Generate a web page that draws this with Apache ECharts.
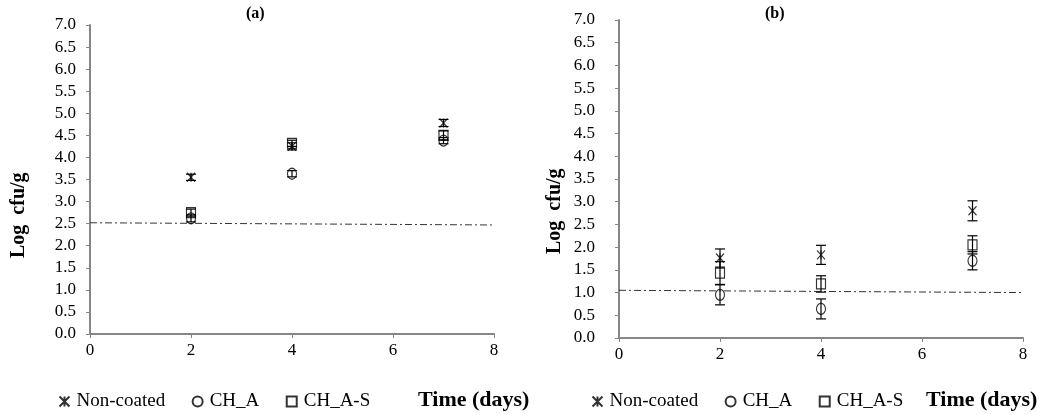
<!DOCTYPE html>
<html>
<head>
<meta charset="utf-8">
<script src="https://cdn.jsdelivr.net/npm/echarts@6/dist/echarts.min.js"></script>
<style>
  html, body { margin: 0; padding: 0; background: #fff; }
  #main { width: 1053px; height: 415px; }
</style>
</head>
<body>
<div id="main"></div>
<script>
// 数据
var days = [2, 4, 7];
var yTicks = ['0.0','0.5','1.0','1.5','2.0','2.5','3.0','3.5','4.0','4.5','5.0','5.5','6.0','6.5','7.0'];

// (a)
var aNonCoated = [3.55, 4.25, 4.78];
var aNonCoatedErr = [0.07, 0.08, 0.08];
var aChA = [2.62, 3.63, 4.38];
var aChAErr = [0.08, 0.07, 0.07];
var aChAS = [2.75, 4.32, 4.50];
var aChASErr = [0.08, 0.07, 0.10];
var aLimitX = [0, 8];
var aLimitY = [2.52, 2.47];

// (b)
var bNonCoated = [1.76, 1.83, 2.80];
var bNonCoatedErr = [0.20, 0.21, 0.22];
var bChA = [0.95, 0.64, 1.70];
var bChAErr = [0.22, 0.22, 0.20];
var bChAS = [1.43, 1.19, 2.05];
var bChASErr = [0.25, 0.18, 0.20];
var bLimitX = [0, 8];
var bLimitY = [1.05, 1.00];

var names = ['Non-coated', 'CH_A', 'CH_A-S'];
var starPath = 'path://M0,0L10,10M10,0L0,10M5,0L5,10';
var serif = 'Liberation Serif';

function pairs(xs, ys, es) {
	var out = [];
	for (var i = 0; i < xs.length; i++) {
		out.push(es ? [xs[i], ys[i], es[i]] : [xs[i], ys[i]]);
	}
	return out;
}

// 误差线
function errRender(params, api) {
	var x = api.value(0), y = api.value(1), e = api.value(2);
	var top = api.coord([x, y + e]);
	var bot = api.coord([x, y - e]);
	var w = 5;
	var st = { stroke: '#000', lineWidth: 1.2 };
	return {
		type: 'group',
		children: [
			{ type: 'line', shape: { x1: top[0], y1: top[1], x2: bot[0], y2: bot[1] }, style: st },
			{ type: 'line', shape: { x1: top[0] - w, y1: top[1], x2: top[0] + w, y2: top[1] }, style: st },
			{ type: 'line', shape: { x1: bot[0] - w, y1: bot[1], x2: bot[0] + w, y2: bot[1] }, style: st }
		]
	};
}

function panelSeries(idx, nc, ncE, ca, caE, cs, csE, lx, ly) {
	var mk = { color: 'none', borderColor: '#000', borderWidth: 1.2 };
	return [
		{ name: names[0], type: 'scatter', xAxisIndex: idx, yAxisIndex: idx, symbol: starPath, symbolSize: [8, 9], itemStyle: mk, data: pairs(days, nc), z: 3 },
		{ name: names[1], type: 'scatter', xAxisIndex: idx, yAxisIndex: idx, symbol: 'circle', symbolSize: [9, 11], itemStyle: mk, data: pairs(days, ca), z: 3 },
		{ name: names[2], type: 'scatter', xAxisIndex: idx, yAxisIndex: idx, symbol: 'rect', symbolSize: [9, 10], itemStyle: mk, data: pairs(days, cs), z: 3 },
		{ name: names[0], type: 'custom', xAxisIndex: idx, yAxisIndex: idx, renderItem: errRender, encode: { x: 0, y: 1 }, data: pairs(days, nc, ncE), z: 2 },
		{ name: names[1], type: 'custom', xAxisIndex: idx, yAxisIndex: idx, renderItem: errRender, encode: { x: 0, y: 1 }, data: pairs(days, ca, caE), z: 2 },
		{ name: names[2], type: 'custom', xAxisIndex: idx, yAxisIndex: idx, renderItem: errRender, encode: { x: 0, y: 1 }, data: pairs(days, cs, csE), z: 2 },
		{ name: 'limit', type: 'line', xAxisIndex: idx, yAxisIndex: idx, symbol: 'none', silent: true,
			lineStyle: { color: '#333', width: 1, type: [7, 3, 2, 3] }, data: pairs(lx, ly), z: 1 }
	];
}

function xAxisCfg(idx) {
	return {
		type: 'value', gridIndex: idx, min: 0, max: 8, interval: 2,
		axisLine: { lineStyle: { color: '#868686', width: 2 } },
		axisTick: { length: 4, lineStyle: { color: '#868686' } },
		axisLabel: { color: '#000', fontFamily: serif, fontSize: 17, margin: 8 },
		splitLine: { show: false }
	};
}

function yAxisCfg(idx, margin) {
	return {
		type: 'value', gridIndex: idx, min: 0, max: 7, interval: 0.5,
		axisLine: { show: true, lineStyle: { color: '#868686', width: 2 } },
		axisTick: { show: true, length: 4, lineStyle: { color: '#868686' } },
		axisLabel: {
			color: '#000', fontFamily: serif, fontSize: 17, margin: margin,
			formatter: function (v) { return yTicks[Math.round(v * 2)]; }
		},
		splitLine: { show: false }
	};
}

function legendCfg(left) {
	return {
		left: left, top: 387, itemWidth: 10, itemHeight: 10, itemGap: 25,
		data: names,
		textStyle: { fontFamily: serif, fontSize: 19, color: '#000', padding: [0, 0, 0, 2] }
	};
}

var myChart = echarts.init(document.getElementById('main'));
var option = {
	animation: false,
	title: [
		{ text: '(a)', left: 241, top: 1, textStyle: { fontFamily: serif, fontSize: 16, fontWeight: 'bold', color: '#000' } },
		{ text: '(b)', left: 760, top: 1, textStyle: { fontFamily: serif, fontSize: 16, fontWeight: 'bold', color: '#000' } },
		{ text: 'Time (days)', left: 413, top: 384, textStyle: { fontFamily: serif, fontSize: 22, fontWeight: 'bold', color: '#000' } },
		{ text: 'Time (days)', left: 921, top: 384, textStyle: { fontFamily: serif, fontSize: 22, fontWeight: 'bold', color: '#000' } }
	],
	legend: [legendCfg(52), legendCfg(585)],
	grid: [
		{ left: 90, right: 559, top: 25, bottom: 81 },
		{ left: 619, right: 30, top: 20, bottom: 77 }
	],
	xAxis: [xAxisCfg(0), xAxisCfg(1)],
	yAxis: [yAxisCfg(0, 14), yAxisCfg(1, 24)],
	graphic: [
		{ type: 'text', x: 9, y: 258, rotation: Math.PI / 2,
			style: { text: 'Log  cfu/g', fontFamily: serif, fontSize: 20, fontWeight: 'bold', fill: '#000' } },
		{ type: 'text', x: 545, y: 254, rotation: Math.PI / 2,
			style: { text: 'Log  cfu/g', fontFamily: serif, fontSize: 20, fontWeight: 'bold', fill: '#000' } }
	],
	series: [].concat(
		panelSeries(0, aNonCoated, aNonCoatedErr, aChA, aChAErr, aChAS, aChASErr, aLimitX, aLimitY),
		panelSeries(1, bNonCoated, bNonCoatedErr, bChA, bChAErr, bChAS, bChASErr, bLimitX, bLimitY)
	)
};
myChart.setOption(option);
</script>
</body>
</html>
